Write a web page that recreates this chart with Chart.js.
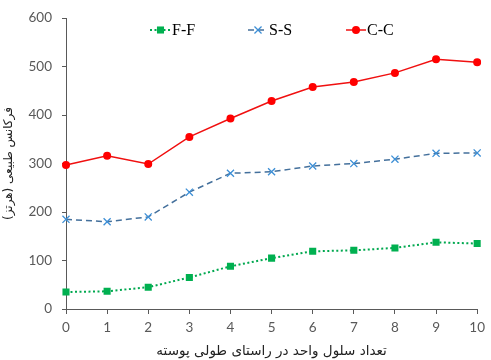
<!DOCTYPE html>
<html>
<head>
<meta charset="utf-8">
<script src="https://cdn.jsdelivr.net/npm/chart.js@4.4.1/dist/chart.umd.min.js"></script>
<style>
  html, body { margin: 0; padding: 0; background: #fff; }
  #wrap { width: 491px; height: 360px; }
</style>
</head>
<body>
<div id="wrap"><canvas id="chart" width="491" height="360"></canvas></div>
<script>
// unit cells along the shell length
const cells = ['0', '1', '2', '3', '4', '5', '6', '7', '8', '9', '10'];

// natural frequency (Hz) for each boundary condition
const freqFF = [35, 36.5, 45, 65, 88, 105, 119, 121, 126, 137.5, 135];
const freqSS = [185, 180, 190, 241, 280, 283, 295, 300, 309, 321, 322];
const freqCC = [297, 316, 299, 355, 393, 429, 458, 468, 487, 515, 509];

const yTicks = [0, 100, 200, 300, 400, 500, 600];

const tickColor = '#595959';
const tickFont = { family: 'Lato, Carlito, sans-serif', size: 13.5 };
const titleFont = { family: '"DejaVu Sans", sans-serif', size: 12 };

// legend drawn as line + marker + label in one row near the top
const lineLegend = {
    id: 'lineLegend',
    afterDraw(chart, args, opts) {
        const c = chart.ctx;
        chart.data.datasets.forEach((ds, i) => {
            const it = opts.items[i];
            const y = opts.y;
            c.save();
            c.strokeStyle = ds.borderColor;
            c.lineWidth = ds.borderWidth;
            c.setLineDash(ds.borderDash || []);
            c.beginPath();
            c.moveTo(it.x0, y);
            c.lineTo(it.x1, y);
            c.stroke();
            c.setLineDash([]);
            c.fillStyle = ds.pointBackgroundColor || ds.borderColor;
            c.strokeStyle = ds.pointBorderColor || ds.borderColor;
            c.lineWidth = ds.pointBorderWidth || 0;
            Chart.helpers.drawPoint(c, {
                pointStyle: ds.pointStyle,
                radius: ds.pointRadius,
                rotation: 0,
                borderWidth: ds.pointBorderWidth
            }, (it.x0 + it.x1) / 2, y);
            c.fillStyle = '#000';
            c.font = '16px "Liberation Serif", serif';
            c.textBaseline = 'middle';
            c.fillText(ds.label, it.x1 + 1, y + 1);
            c.restore();
        });
    }
};

const ctx = document.getElementById('chart').getContext('2d');

new Chart(ctx, {
    type: 'line',
    data: {
        labels: cells,
        datasets: [
            {
                label: 'F-F',
                data: freqFF,
                borderColor: '#00a84f',
                borderWidth: 2,
                borderDash: [2, 2.5],
                pointStyle: 'rect',
                pointRadius: 5,
                pointBorderWidth: 0,
                pointBackgroundColor: '#00b050',
                pointBorderColor: '#00b050'
            },
            {
                label: 'S-S',
                data: freqSS,
                borderColor: '#44709c',
                borderWidth: 1.5,
                borderDash: [6, 4],
                pointStyle: 'crossRot',
                pointRadius: 5,
                pointBorderWidth: 1.3,
                pointBorderColor: '#3d8fd6'
            },
            {
                label: 'C-C',
                data: freqCC,
                borderColor: '#f01010',
                borderWidth: 1.5,
                pointStyle: 'circle',
                pointRadius: 4,
                pointBorderWidth: 0,
                pointBackgroundColor: '#ff0000',
                pointBorderColor: '#ff0000'
            }
        ]
    },
    options: {
        responsive: false,
        animation: false,
        layout: { padding: { top: 18, right: 7, left: 2, bottom: 0 } },
        plugins: {
            legend: { display: false },
            tooltip: { enabled: false },
            lineLegend: {
                y: 30,
                items: [
                    { x0: 150, x1: 171 },
                    { x0: 248, x1: 268 },
                    { x0: 346, x1: 366 }
                ]
            }
        },
        scales: {
            x: {
                offset: false,
                grid: { drawOnChartArea: false, drawTicks: true, tickLength: 5, color: tickColor },
                border: { color: tickColor, width: 1 },
                ticks: { color: tickColor, font: tickFont, padding: 6, maxRotation: 0 },
                title: {
                    display: true,
                    text: 'تعداد سلول واحد در راستای طولی پوسته',
                    color: '#222',
                    font: { family: '"DejaVu Sans", sans-serif', size: 13.5 },
                    padding: { top: 3, bottom: 0 }
                },
                afterFit(scale) { scale.height = 51; }
            },
            y: {
                min: 0,
                max: 600,
                afterBuildTicks(scale) { scale.ticks = yTicks.map(v => ({ value: v })); },
                grid: { drawOnChartArea: false, drawTicks: true, tickLength: 4, color: tickColor },
                border: { color: tickColor, width: 1 },
                ticks: { color: tickColor, font: tickFont, padding: 10 },
                title: {
                    display: true,
                    text: 'فرکانس طبیعی (هرتز)',
                    color: '#222',
                    font: titleFont,
                    padding: { top: 0, bottom: 4 }
                },
                afterFit(scale) { scale.width = 64; }
            }
        }
    },
    plugins: [lineLegend]
});
</script>
</body>
</html>
